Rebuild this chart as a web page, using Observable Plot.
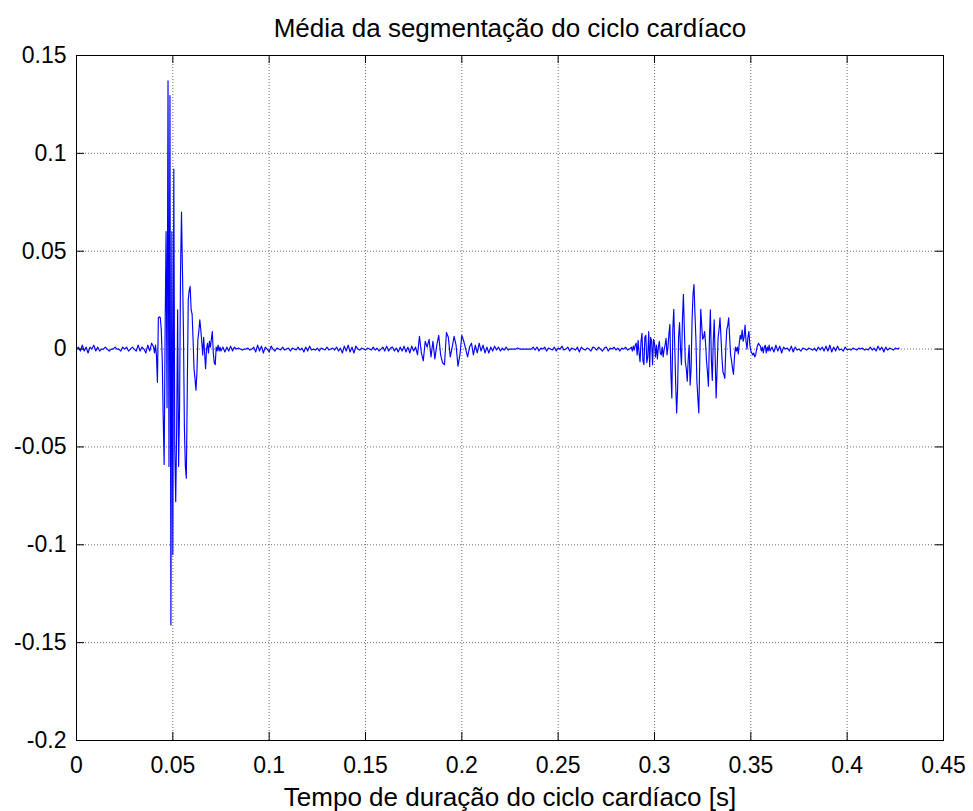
<!DOCTYPE html>
<html>
<head>
<meta charset="utf-8">
<script src="https://cdn.jsdelivr.net/npm/d3@7"></script>
<script src="https://cdn.jsdelivr.net/npm/@observablehq/plot@0.6"></script>
<style>
  html, body { margin: 0; padding: 0; background: #fff; }
  #chart svg { display: block; }
</style>
</head>
<body>
<div id="chart"></div>
<script>
// ---- labels ----
const titleText = "Média da segmentação do ciclo cardíaco";
const xLabelText = "Tempo de duração do ciclo cardíaco [s]";

// ---- ticks ----
const xTicks = [0, 0.05, 0.1, 0.15, 0.2, 0.25, 0.3, 0.35, 0.4, 0.45];
const yTicks = [-0.2, -0.15, -0.1, -0.05, 0, 0.05, 0.1, 0.15];

// ---- signal segments (start time [s], sample step [s], values) ----
const quietA = [
  0.000, 0.001, -0.001, 0.002, -0.001, 0.001, -0.002, 0.001, 0.000, 0.002,
  -0.001, 0.001, -0.001, 0.000, 0.000, 0.001, 0.000, -0.001, 0.000, 0.000,
  0.001, 0.000, 0.000, -0.001, 0.001, 0.000, 0.001, -0.001, 0.000, 0.001,
  0.000, -0.001, 0.002, -0.001, 0.001, 0.000, -0.002, 0.002, -0.001, 0.003
];
const burst1 = [
  0.001, -0.002, 0.002, -0.003, -0.017, 0.016, 0.0165, 0.016, 0.010, -0.005,
  -0.035, -0.059, 0.010, 0.060, -0.030, 0.137, -0.060, 0.1295, -0.141, 0.060,
  -0.105, 0.092, -0.050, -0.078, -0.040, 0.020, -0.060, -0.030, 0.040, 0.070,
  0.040, 0.010, -0.040, -0.060, -0.066, -0.020, 0.025, 0.030, 0.032, 0.020,
  0.018, 0.005, -0.010, -0.015, -0.021, -0.012, 0.005, 0.009, 0.015, 0.010,
  0.004, -0.003, 0.006, -0.002, -0.010, 0.000, 0.003, -0.002, 0.004, 0.001,
  0.005, 0.009, -0.002, -0.007, -0.008, 0.001, -0.001, 0.002, -0.001, 0.001
];
const quiet2 = [
  -0.001, 0.001, -0.0015, 0.001, -0.001, 0.0015, -0.001, 0.001, 0.000, 0.0005,
  0.000, -0.0005, 0.000, 0.000, 0.0005, -0.0005, 0.000, 0.001, -0.0015, 0.002,
  -0.001, 0.0015, -0.002, 0.001, 0.000, -0.0015, 0.0015, 0.000, -0.001, 0.0005,
  0.000, -0.0005, 0.001, -0.0005, 0.000, 0.0005, -0.001, 0.0005, 0.000, -0.0005,
  0.001, -0.0005, 0.0005, -0.0015, 0.001, -0.001, 0.0015, -0.0005, 0.000, -0.0005,
  0.0005, -0.001, 0.0005, 0.000, -0.0005, 0.001, -0.0005, 0.000, 0.0005, -0.0005,
  0.001, -0.001, 0.0005, -0.002, 0.0015, -0.001, 0.002, -0.0015, 0.001, -0.002,
  0.0015, 0.000, -0.0005, 0.0005, 0.000, -0.0005, 0.0005, 0.000, -0.0005, 0.001,
  -0.0005, 0.0005, -0.001, 0.000, 0.001, -0.001, 0.0015, -0.001, 0.0005, 0.001,
  -0.001, 0.0005, -0.0015, 0.001, -0.001, 0.0015, -0.0015, 0.001, -0.002, 0.0015,
  -0.001
];
const burst2 = [
  0.001, -0.003, 0.0065, -0.002, -0.006, 0.004, 0.001, 0.005, -0.004, 0.004,
  -0.005, 0.002, 0.007, -0.003, -0.007, -0.008, 0.0085, 0.006, -0.004, 0.001,
  0.0065, 0.002, -0.0088, -0.003, 0.007, 0.004, 0.000, -0.004, 0.001, 0.003,
  -0.003, 0.002, -0.002, 0.003, -0.001, 0.002, -0.002, 0.001, -0.002, 0.001
];
const quiet3 = [
  -0.001, 0.0015, -0.0005, 0.001, -0.001, 0.0005, -0.0005, 0.001, -0.0005, 0.000,
  0.000, 0.000, 0.000, 0.0005, 0.000, 0.000, 0.000, 0.000, 0.000, 0.000,
  0.000, 0.001, -0.0005, 0.001, -0.001, 0.0005, 0.000, 0.001, -0.001, 0.0005,
  0.000, -0.0005, 0.001, -0.001, 0.0005, 0.000, 0.0015, -0.0005, 0.000, 0.001,
  -0.001, 0.0005, 0.000, -0.0005, 0.001, -0.0015, 0.001, 0.000, -0.0005, 0.0005,
  0.000, -0.001, 0.001, 0.0005, -0.0005, 0.001, 0.000, -0.001, 0.0005, 0.001,
  -0.001, 0.0005, 0.000, 0.001, -0.0005, 0.0005, -0.001, 0.0005, 0.000, 0.001,
  -0.0005, 0.000
];
const burst3 = [
  0.001, -0.001, 0.0015, -0.0005, 0.002, 0.003, -0.003, 0.0045, -0.002, -0.0065,
  0.004, 0.008, -0.006, -0.008, 0.006, 0.007, -0.007, -0.004, 0.009, -0.009,
  0.006, 0.004, -0.008, 0.005, 0.003, -0.004, 0.002, -0.005, 0.001, 0.004,
  -0.002, -0.003, 0.001, -0.004, 0.000, 0.002, 0.0055, -0.003, 0.001, 0.008,
  0.0126, -0.012, -0.025, 0.010, 0.0203, 0.002, -0.018, -0.0326, -0.020, 0.006,
  0.0135, 0.000, -0.008, 0.015, 0.028, 0.010, -0.0066, -0.010, -0.0164, -0.005,
  0.002, -0.0184, -0.010, 0.015, 0.028, 0.033, 0.018, 0.005, -0.0164, -0.025,
  -0.0326, -0.005, 0.0203, 0.012, 0.005, 0.006, 0.009, 0.003, -0.006, -0.012,
  -0.019, 0.005, 0.020, -0.005, -0.016, 0.004, 0.015, -0.005, -0.025, -0.010,
  0.0055, 0.010, 0.016, 0.006, -0.004, -0.0116, -0.013, -0.015, 0.000, 0.010,
  0.012, 0.016, 0.006, -0.003, -0.006, -0.010, -0.013, -0.004, 0.001, -0.001,
  0.001, -0.0025, 0.003, 0.007, 0.005, 0.0097, 0.004, 0.006, 0.0123, 0.004,
  0.000, 0.006, 0.009, 0.002, -0.001, -0.002, -0.003, -0.002, -0.004, -0.003,
  0.000, 0.002, 0.003, 0.002, 0.0015, -0.001, 0.001, -0.002, 0.001, 0.002,
  -0.002, 0.001, -0.001, 0.002, -0.001
];
const quietG = [
  0.001, -0.0015, 0.002, -0.001, 0.0015, -0.002, 0.001, 0.000, 0.0005, -0.001,
  0.0015, -0.0015, 0.001, -0.0005, 0.000, -0.001, 0.0005, 0.000, -0.0005, 0.0005,
  0.000, -0.0005, 0.0005, -0.001, 0.001, -0.0005, 0.001, -0.001, 0.0015, -0.001,
  0.002, -0.0015, 0.001, -0.001, 0.0015, -0.0005, 0.000, -0.001, 0.001, -0.0005,
  0.000, -0.0005, 0.0005, 0.000, -0.0005, 0.0005, 0.000, 0.0005, -0.0005, 0.000,
  -0.0005, 0.001, -0.0005, 0.0005, -0.001, 0.0015, -0.0005, 0.001, -0.0015, 0.001,
  -0.0005, 0.0005, 0.000, -0.0005, 0.0005, 0.000, 0.0005
];
const segStarts = [0, 0.040, 0.075, 0.176, 0.216, 0.288, 0.361];
const segSteps  = [0.001, 0.0005, 0.001, 0.001, 0.001, 0.0005, 0.001];
const segValues = [quietA, burst1, quiet2, burst2, quiet3, burst3, quietG];

// build table (time from sample index)
const signal = [];
segValues.forEach((vals, s) => {
  vals.forEach((v, i) => signal.push({t: segStarts[s] + i * segSteps[s], v}));
});

// ---- layout constants ----
const W = 973, H = 811;
const mLeft = 76, mRight = 30, mTop = 55, mBottom = 71;
const tickPx = 8;
const xDom = [0, 0.45], yDom = [-0.2, 0.15];
const tickLenX = (xDom[1] - xDom[0]) / (W - mLeft - mRight) * tickPx;
const tickLenY = (yDom[1] - yDom[0]) / (H - mTop - mBottom) * tickPx;
const font = "'Liberation Sans', Arial, Helvetica, sans-serif";
const gridStyle = {stroke: "#6f6f6f", strokeOpacity: 1, strokeWidth: 1, strokeDasharray: "1,2"};

const chart = Plot.plot({
  width: W,
  height: H,
  marginLeft: mLeft,
  marginRight: mRight,
  marginTop: mTop,
  marginBottom: mBottom,
  style: {fontFamily: font, background: "#fff", color: "#000"},
  x: {domain: xDom},
  y: {domain: yDom},
  marks: [
    Plot.gridX(xTicks, gridStyle),
    Plot.gridY(yTicks, gridStyle),
    Plot.line(signal, {x: "t", y: "v", stroke: "#0000ff", strokeWidth: 1.15}),
    // inward tick marks on all four sides
    Plot.ruleX(xTicks, {x: d => d, y1: yDom[0], y2: yDom[0] + tickLenY, stroke: "#000"}),
    Plot.ruleX(xTicks, {x: d => d, y1: yDom[1] - tickLenY, y2: yDom[1], stroke: "#000"}),
    Plot.ruleY(yTicks, {y: d => d, x1: xDom[0], x2: xDom[0] + tickLenX, stroke: "#000"}),
    Plot.ruleY(yTicks, {y: d => d, x1: xDom[1] - tickLenX, x2: xDom[1], stroke: "#000"}),
    Plot.frame({stroke: "#000", strokeWidth: 1}),
    Plot.axisX(xTicks, {anchor: "bottom", tickSize: 0, tickPadding: 16, fontSize: 23, tickFormat: d => String(d), label: null}),
    Plot.axisY(yTicks, {anchor: "left", tickSize: 0, tickPadding: 10, fontSize: 23, tickFormat: d => String(d), label: null}),
    Plot.text([titleText], {text: d => d, frameAnchor: "top", lineAnchor: "middle", dy: -27, fontSize: 26, fill: "#000"}),
    Plot.text([xLabelText], {text: d => d, frameAnchor: "bottom", lineAnchor: "middle", dy: 57, fontSize: 26, fill: "#000"})
  ]
});
document.getElementById("chart").appendChild(chart);
</script>
</body>
</html>
